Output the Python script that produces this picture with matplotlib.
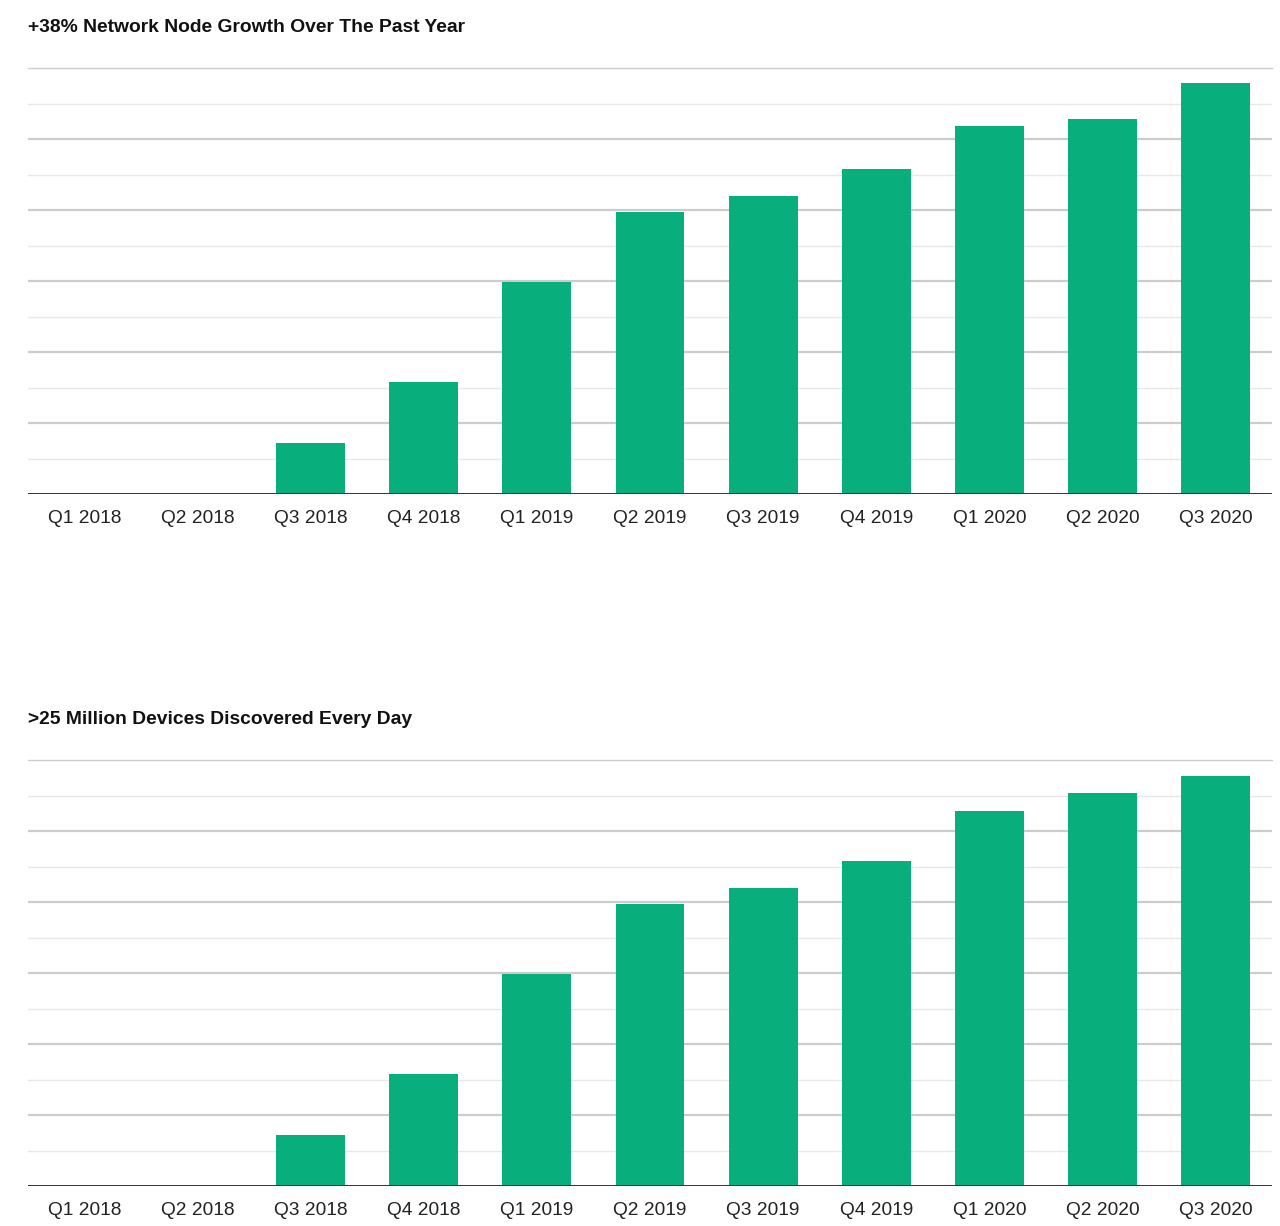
import matplotlib.pyplot as plt
import numpy as np

# quarters shown on both charts
quarters = ['Q1 2018', 'Q2 2018', 'Q3 2018', 'Q4 2018', 'Q1 2019', 'Q2 2019',
            'Q3 2019', 'Q4 2019', 'Q1 2020', 'Q2 2020', 'Q3 2020']

# values (units = one gridline step, axis has no labels)
node_growth = [0, 0, 1.44, 3.15, 5.97, 7.94, 8.39, 9.15, 10.37, 10.56, 11.58]
devices_found = [0, 0, 1.44, 3.15, 5.97, 7.94, 8.39, 9.15, 10.56, 11.07, 11.55]

titles = ['+38% Network Node Growth Over The Past Year',
          '>25 Million Devices Discovered Every Day']

GREEN = '#08ae7b'
plt.rcParams['font.family'] = ['Liberation Sans', 'DejaVu Sans']

fig = plt.figure(figsize=(12.8, 12.26), dpi=100)
W, H = 1280, 1226


def draw_panel(rect, values, title, title_y):
    ax = fig.add_axes(rect)
    x = np.arange(len(quarters))
    ax.bar(x, values, width=0.61, color=GREEN, zorder=3)
    ax.set_xlim(-0.5, len(quarters) - 0.5)
    ax.set_ylim(0, 12)

    # gridlines: heavier every other step, top one thin
    for k in range(1, 13):
        if k == 12:
            ax.axhline(k, color='#cccccc', lw=1.0, zorder=1, clip_on=False)
        elif k % 2 == 0:
            ax.axhline(k, color='#cccccc', lw=1.6, zorder=1)
        else:
            ax.axhline(k, color='#e8e8e8', lw=1.0, zorder=1)
    ax.axhline(0, color='#333333', lw=1.4, zorder=4)

    for s in ax.spines.values():
        s.set_visible(False)
    ax.set_yticks([])
    ax.set_xticks(x)
    ax.set_xticklabels(quarters, fontsize=13.8, color='#222222')
    ax.tick_params(axis='x', length=0, pad=11.5)

    fig.text(28 / W, 1 - title_y / H, title, fontsize=13.9, fontweight='bold',
             ha='left', va='center', color='#111111')
    return ax


ax_w = 1244 / W
ax_h = 426 / H
draw_panel([28 / W, (H - 494) / H, ax_w, ax_h], node_growth, titles[0], 27)
draw_panel([28 / W, (H - 1186) / H, ax_w, ax_h], devices_found, titles[1], 719)

plt.savefig('out.png', dpi=100)
